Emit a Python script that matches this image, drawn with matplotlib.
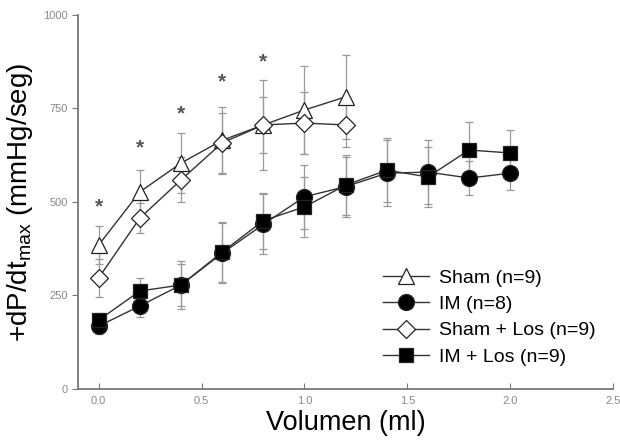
import numpy as np
import matplotlib
matplotlib.use("Agg")
import matplotlib.pyplot as plt

plt.rcParams['font.family'] = ['Liberation Sans', 'DejaVu Sans']
plt.rcParams['mathtext.default'] = 'regular'

vol = [0.0, 0.2, 0.4, 0.6, 0.8, 1.0, 1.2, 1.4, 1.6, 1.8, 2.0]

sham = [385, 527, 604, 665, 706, 746, 781]
sham_err = [50, 58, 80, 90, 120, 118, 112]

im = [168, 222, 278, 363, 440, 514, 541, 577, 580, 564, 577]
im_err = [20, 30, 65, 80, 80, 85, 80, 88, 85, 45, 45]

sham_los = [297, 457, 559, 658, 706, 711, 706]
sham_los_err = [50, 40, 60, 80, 75, 83, 59]

im_los = [184, 262, 278, 366, 450, 487, 545, 585, 567, 639, 631]
im_los_err = [20, 35, 55, 80, 75, 80, 80, 85, 80, 75, 61]

star_x = [0.0, 0.2, 0.4, 0.6, 0.8]
star_y = [486, 644, 735, 821, 874]

fig = plt.figure(figsize=(6.2, 4.41), dpi=100)
ax = fig.add_axes([0.126, 0.118, 0.863, 0.848])

line_col = '#333333'
err_col = '#999999'

series = [
    (sham, sham_err, '^', 'white', 11, 'Sham (n=9)'),
    (im, im_err, 'o', 'black', 11.5, 'IM (n=8)'),
    (sham_los, sham_los_err, 'D', 'white', 9, 'Sham + Los (n=9)'),
    (im_los, im_los_err, 's', 'black', 10, 'IM + Los (n=9)'),
]

for y, e, m, fc, ms, lab in series:
    x = vol[:len(y)]
    ax.errorbar(x, y, yerr=e, fmt='none', ecolor=err_col, elinewidth=0.9,
                capsize=3, capthick=0.9, zorder=1)
for y, e, m, fc, ms, lab in series:
    x = vol[:len(y)]
    ax.plot(x, y, marker=m, markersize=ms, markerfacecolor=fc,
            markeredgecolor='#222222', markeredgewidth=0.9, color=line_col,
            linewidth=1.0, label=lab, zorder=3)

for sx, sy in zip(star_x, star_y):
    ax.text(sx, sy, '*', ha='center', va='center', fontsize=15,
            color='#555555', fontweight='bold')

ax.set_xlim(-0.1, 2.5)
ax.set_ylim(0, 1000)
ax.set_xticks([0.0, 0.5, 1.0, 1.5, 2.0, 2.5])
ax.set_xticklabels(['0.0', '0.5', '1.0', '1.5', '2.0', '2.5'])
ax.set_yticks([0, 250, 500, 750, 1000])

for s in ['top', 'right']:
    ax.spines[s].set_visible(False)
for s in ['left', 'bottom']:
    ax.spines[s].set_color('#777777')
    ax.spines[s].set_linewidth(1.3)

ax.tick_params(axis='y', direction='out', length=4, color='#777777',
               labelsize=8, labelcolor='#888888')
ax.tick_params(axis='x', direction='in', length=4, color='#777777',
               labelsize=8, labelcolor='#888888', pad=5)

ax.set_xlabel('Volumen (ml)', fontsize=19.5, labelpad=3)
ax.set_ylabel('+dP/dt$_{max}$ (mmHg/seg)', fontsize=20, labelpad=6)

ax.legend(loc='lower right', bbox_to_anchor=(1.0, 0.015), frameon=False,
          fontsize=14, handlelength=2.4, handletextpad=0.5, labelspacing=0.45)

fig.savefig('out.png', dpi=100)
